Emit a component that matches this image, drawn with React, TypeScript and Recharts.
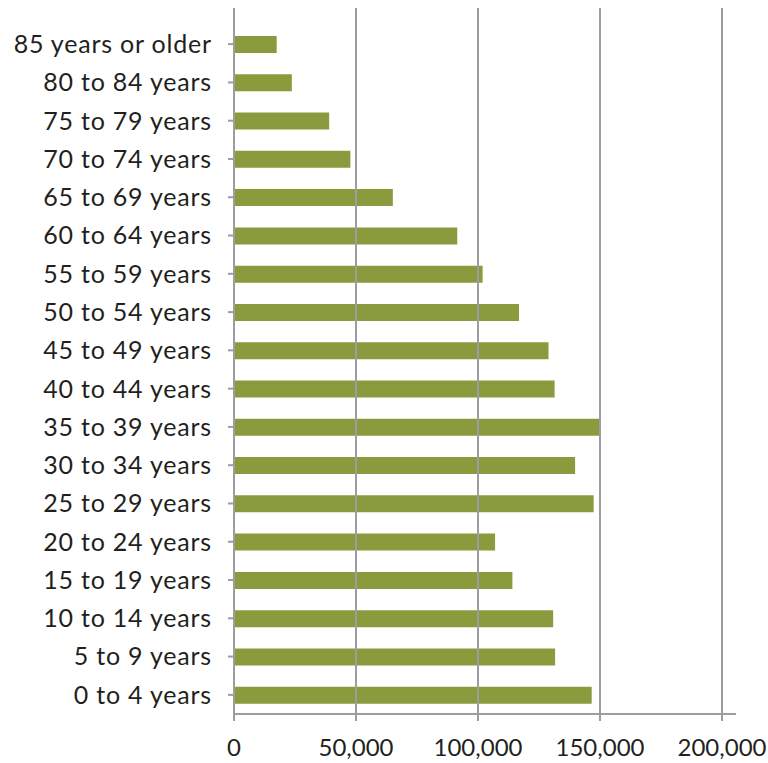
import React from "react";
import { BarChart, Bar, XAxis, YAxis, ReferenceLine } from "recharts";

// Age groups, listed top to bottom as drawn
const ageGroups = [
  "85 years or older",
  "80 to 84 years",
  "75 to 79 years",
  "70 to 74 years",
  "65 to 69 years",
  "60 to 64 years",
  "55 to 59 years",
  "50 to 54 years",
  "45 to 49 years",
  "40 to 44 years",
  "35 to 39 years",
  "30 to 34 years",
  "25 to 29 years",
  "20 to 24 years",
  "15 to 19 years",
  "10 to 14 years",
  "5 to 9 years",
  "0 to 4 years",
];

// Population per age group
const population = [
  17500, 23700, 39000, 47700, 65100, 91500, 101900, 116800, 128900,
  131400, 150200, 139800, 147400, 107000, 114100, 130800, 131600, 146600,
];

const xTicks = [0, 50000, 100000, 150000, 200000];
const gridValues = [50000, 100000, 150000, 200000];

const data = ageGroups.map((group, i) => ({ group, value: population[i] }));

const FONT = "Lato, 'Open Sans', sans-serif";
const AXIS_GREY = "#9d9da1";
const BAR_GREEN = "#8a9b3d";
const TEXT = "#231f20";

const formatThousands = (v: number) => v.toLocaleString("en-US");

export default function App() {
  return (
    <div style={{ position: "absolute", left: 0, top: 0, width: 768, height: 763, background: "#fff" }}>
      <BarChart
        width={768}
        height={763}
        data={data}
        layout="vertical"
        margin={{ top: 8, right: 32, bottom: 0, left: 0 }}
        barCategoryGap={0}
      >
        <XAxis
          type="number"
          domain={[0, 200000]}
          ticks={xTicks}
          tickFormatter={formatThousands}
          height={49}
          padding={{ left: 0, right: 14 }}
          axisLine={{ stroke: AXIS_GREY, strokeWidth: 2 }}
          tickLine={{ stroke: AXIS_GREY, strokeWidth: 2 }}
          tickSize={7}
          tickMargin={18}
          tick={{ fill: TEXT, fontSize: 24, fontFamily: FONT }}
          interval={0}
        />
        <YAxis
          type="category"
          dataKey="group"
          width={234}
          padding={{ top: 17, bottom: 0 }}
          axisLine={{ stroke: AXIS_GREY, strokeWidth: 2 }}
          tickLine={{ stroke: AXIS_GREY, strokeWidth: 2 }}
          tickSize={6}
          tickMargin={16}
          tick={{ fill: TEXT, fontSize: 25, fontFamily: FONT, letterSpacing: 0.8 }}
          interval={0}
        />
        {gridValues.map((v) => (
          <ReferenceLine key={v} x={v} stroke={AXIS_GREY} strokeWidth={2} />
        ))}
        <Bar dataKey="value" fill={BAR_GREEN} barSize={17} isAnimationActive={false} />
      </BarChart>
    </div>
  );
}
